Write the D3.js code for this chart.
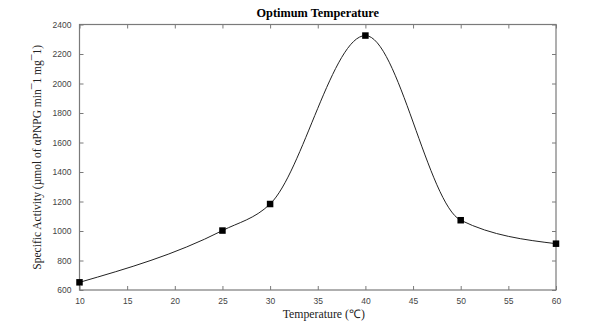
<!DOCTYPE html>
<html><head><meta charset="utf-8">
<script src="https://cdn.jsdelivr.net/npm/d3@7"></script>
<style>body{margin:0;background:#fff}svg{display:block}</style>
</head><body>
<script>
const temps = [10, 25, 30, 40, 50, 60];
const activity = [652, 1003, 1183, 2325, 1073, 914];
const xTicks = [10, 15, 20, 25, 30, 35, 40, 45, 50, 55, 60];
const yTicks = [600, 800, 1000, 1200, 1400, 1600, 1800, 2000, 2200, 2400];
const title = "Optimum Temperature";
const xLabel = "Temperature (\u2103)";
const yLabel = "Specific Activity (\u00b5mol of \u03b1PNPG min\u00af1 mg\u00af1)";

const W = 614, H = 328;
const m = {l: 79.5, r: 58, t: 24.5, b: 38};
const svg = d3.select("body").append("svg").attr("width", W).attr("height", H);
const x = d3.scaleLinear().domain([10, 60]).range([m.l, W - m.r]);
const y = d3.scaleLinear().domain([600, 2400]).range([H - m.b, m.t]);
const axisCol = "#7a7a7a", tickTextCol = "#444";
const fmt = d3.format("d");

// frame
svg.append("rect").attr("x", x(10)).attr("y", y(2400))
  .attr("width", x(60) - x(10)).attr("height", y(600) - y(2400))
  .attr("fill", "none").attr("stroke", axisCol).attr("stroke-width", 1.2);

function styleAxis(g) {
  g.select(".domain").remove();
  g.selectAll(".tick line").attr("stroke", axisCol);
  g.selectAll(".tick text").attr("fill", tickTextCol)
    .style("font-family", "'Liberation Sans', Arial, sans-serif").style("font-size", "8.5px");
}
const tl = 4;
svg.append("g").attr("transform", `translate(0,${y(600)})`)
  .call(d3.axisBottom(x).tickValues(xTicks).tickFormat(fmt).tickSizeInner(-tl).tickSizeOuter(0).tickPadding(8))
  .call(styleAxis);
svg.append("g").attr("transform", `translate(0,${y(2400)})`)
  .call(d3.axisTop(x).tickValues(xTicks).tickSizeInner(-tl).tickSizeOuter(0).tickFormat(""))
  .call(styleAxis);
svg.append("g").attr("transform", `translate(${x(10)},0)`)
  .call(d3.axisLeft(y).tickValues(yTicks).tickFormat(fmt).tickSizeInner(-tl).tickSizeOuter(0).tickPadding(8))
  .call(styleAxis);
svg.append("g").attr("transform", `translate(${x(60)},0)`)
  .call(d3.axisRight(y).tickValues(yTicks).tickSizeInner(-tl).tickSizeOuter(0).tickFormat(""))
  .call(styleAxis);

const data = temps.map((t, i) => ({t, v: activity[i]}));
svg.append("path").datum(data)
  .attr("d", d3.line().x(d => x(d.t)).y(d => y(d.v)).curve(d3.curveMonotoneX))
  .attr("fill", "none").attr("stroke", "#222").attr("stroke-width", 1);

const s = 6.5;
svg.selectAll("rect.pt").data(data).enter().append("rect").attr("class", "pt")
  .attr("x", d => x(d.t) - s / 2).attr("y", d => y(d.v) - s / 2)
  .attr("width", s).attr("height", s).attr("fill", "#000");

const serif = "'Liberation Serif', 'Times New Roman', serif";
svg.append("text").attr("x", (x(10) + x(60)) / 2).attr("y", 17).attr("text-anchor", "middle")
  .style("font-family", serif).style("font-weight", "bold").style("font-size", "12.3px").text(title);
svg.append("text").attr("x", (x(10) + x(60)) / 2 + 6).attr("y", 318).attr("text-anchor", "middle")
  .style("font-family", serif).style("font-size", "11.8px").attr("fill", "#222").text(xLabel);
svg.append("text").attr("transform", `translate(41,${(y(600) + y(2400)) / 2}) rotate(-90)`)
  .attr("text-anchor", "middle")
  .style("font-family", serif).style("font-size", "11.5px").attr("fill", "#222").text(yLabel);
</script>
</body></html>
